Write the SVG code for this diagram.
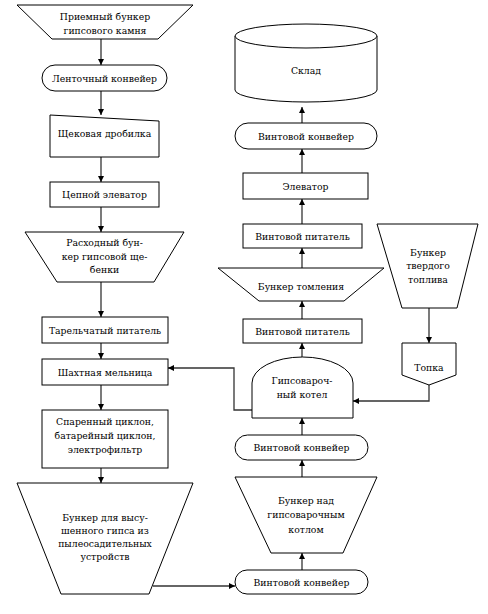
<svg xmlns="http://www.w3.org/2000/svg" width="488" height="614" viewBox="0 0 488 614">
<defs>
<marker id="ah" viewBox="0 0 10 10" refX="10" refY="5" markerWidth="6" markerHeight="7" markerUnits="userSpaceOnUse" orient="auto">
<path d="M0,0 L10,5 L0,10 Z" fill="#000"/>
</marker>
</defs>
<style>
.s{fill:#fff;stroke:#000;stroke-width:1}
.t{font-family:'DejaVu Serif','Liberation Serif',serif;font-size:9.3px;fill:#000;text-anchor:middle}
.c{fill:none;stroke:#333;stroke-width:1.3;marker-end:url(#ah)}
</style>
<rect width="488" height="614" fill="#fff"/>
<g id="connectors">
<path class="c" d="M101,39 V65"/>
<path class="c" d="M101,91 V115"/>
<path class="c" d="M101,157 V182"/>
<path class="c" d="M101,207 V232"/>
<path class="c" d="M101,282 V317"/>
<path class="c" d="M101,343 V359"/>
<path class="c" d="M101,385 V410"/>
<path class="c" d="M101,468 V483"/>
<path class="c" d="M153,586 H235"/>
<path class="c" d="M302,570 V553"/>
<path class="c" d="M302,477 V460"/>
<path class="c" d="M302,435 V418"/>
<path class="c" d="M252,410 H234 V368 H168"/>
<path class="c" d="M429,385 V401 H353"/>
<path class="c" d="M429,308 V343"/>
<path class="c" d="M302,357 V343"/>
<path class="c" d="M302,319 V301"/>
<path class="c" d="M302,268 V248"/>
<path class="c" d="M302,224 V199"/>
<path class="c" d="M302,173 V149"/>
<path class="c" d="M302,123 V107"/>
</g>
<g id="n1"><path class="s" d="M17,5 H193 L158,39 H52 Z"/><text class="t" x="105" y="20">Приемный бункер</text><text class="t" x="105" y="34">гипсового камня</text></g>
<g id="n2"><rect class="s" x="42" y="65" width="125" height="26" rx="13"/><text class="t" x="104.5" y="81.5">Ленточный конвейер</text></g>
<g id="n3"><path class="s" d="M50,115 L159,121 V157 H50 Z"/><text class="t" x="104.5" y="137">Щековая дробилка</text></g>
<g id="n4"><rect class="s" x="50" y="182" width="109" height="25"/><text class="t" x="104.5" y="197.5">Цепной элеватор</text></g>
<g id="n5"><path class="s" d="M25,232 H184 L154,282 H57 Z"/><text class="t" x="104.5" y="246">Расходный бун-</text><text class="t" x="104.5" y="259.5">кер гипсовой ще-</text><text class="t" x="104.5" y="273">бенки</text></g>
<g id="n6"><rect class="s" x="42" y="317" width="126" height="26"/><text class="t" x="105" y="333.5">Тарельчатый питатель</text></g>
<g id="n7"><rect class="s" x="42" y="359" width="126" height="26"/><text class="t" x="105" y="375.5">Шахтная мельница</text></g>
<g id="n8"><rect class="s" x="42" y="410" width="126" height="58"/><text class="t" x="105" y="424.5">Спаренный циклон,</text><text class="t" x="105" y="438.5">батарейный циклон,</text><text class="t" x="105" y="452.5">электрофильтр</text></g>
<g id="n9"><path class="s" d="M17,483 H193 L149,594 H61 Z"/><text class="t" x="105" y="520.5">Бункер для высу-</text><text class="t" x="105" y="533.5">шенного гипса из</text><text class="t" x="105" y="546.5">пылеосадительных</text><text class="t" x="105" y="559.5">устройств</text></g>
<g id="n10"><rect class="s" x="235" y="570" width="133" height="24" rx="12"/><text class="t" x="301.5" y="585.5">Винтовой конвейер</text></g>
<g id="n11"><path class="s" d="M235,477 H377 L343,553 H271 Z"/><text class="t" x="306" y="503.5">Бункер над</text><text class="t" x="306" y="518">гипсоварочным</text><text class="t" x="306" y="532.5">котлом</text></g>
<g id="n12"><rect class="s" x="235" y="435" width="133" height="25" rx="12.5"/><text class="t" x="301.5" y="450.5">Винтовой конвейер</text></g>
<g id="n13"><path class="s" d="M252,418 V383 A50.5,26 0 0 1 353,383 V418 Z"/><text class="t" x="302" y="383.5">Гипсовароч-</text><text class="t" x="302" y="397.5">ный котел</text></g>
<g id="n14"><path class="s" d="M402,343 H456 V375 L429,385 L402,375 Z"/><text class="t" x="429" y="370.5">Топка</text></g>
<g id="n15"><path class="s" d="M377,224 H478 L457,308 H402 Z"/><text class="t" x="428" y="255.5">Бункер</text><text class="t" x="428" y="268.5">твердого</text><text class="t" x="428" y="282.5">топлива</text></g>
<g id="n16"><rect class="s" x="243" y="319" width="119" height="24"/><text class="t" x="302.5" y="334.5">Винтовой питатель</text></g>
<g id="n17"><path class="s" d="M218,268 H384 L344,301 H259 Z"/><text class="t" x="301" y="289.5">Бункер томления</text></g>
<g id="n18"><rect class="s" x="243" y="224" width="119" height="24"/><text class="t" x="302.5" y="239.5">Винтовой питатель</text></g>
<g id="n19"><rect class="s" x="243" y="173" width="125" height="26"/><text class="t" x="305.5" y="189.5">Элеватор</text></g>
<g id="n20"><rect class="s" x="235" y="123" width="142" height="26" rx="13"/><text class="t" x="306" y="139.5">Винтовой конвейер</text></g>
<g id="n21"><path class="s" d="M235,36 V90 A71,12 0 0 0 377,90 V36"/><ellipse class="s" cx="306" cy="36" rx="71" ry="12"/><text class="t" x="306" y="73.5">Склад</text></g>
</svg>
